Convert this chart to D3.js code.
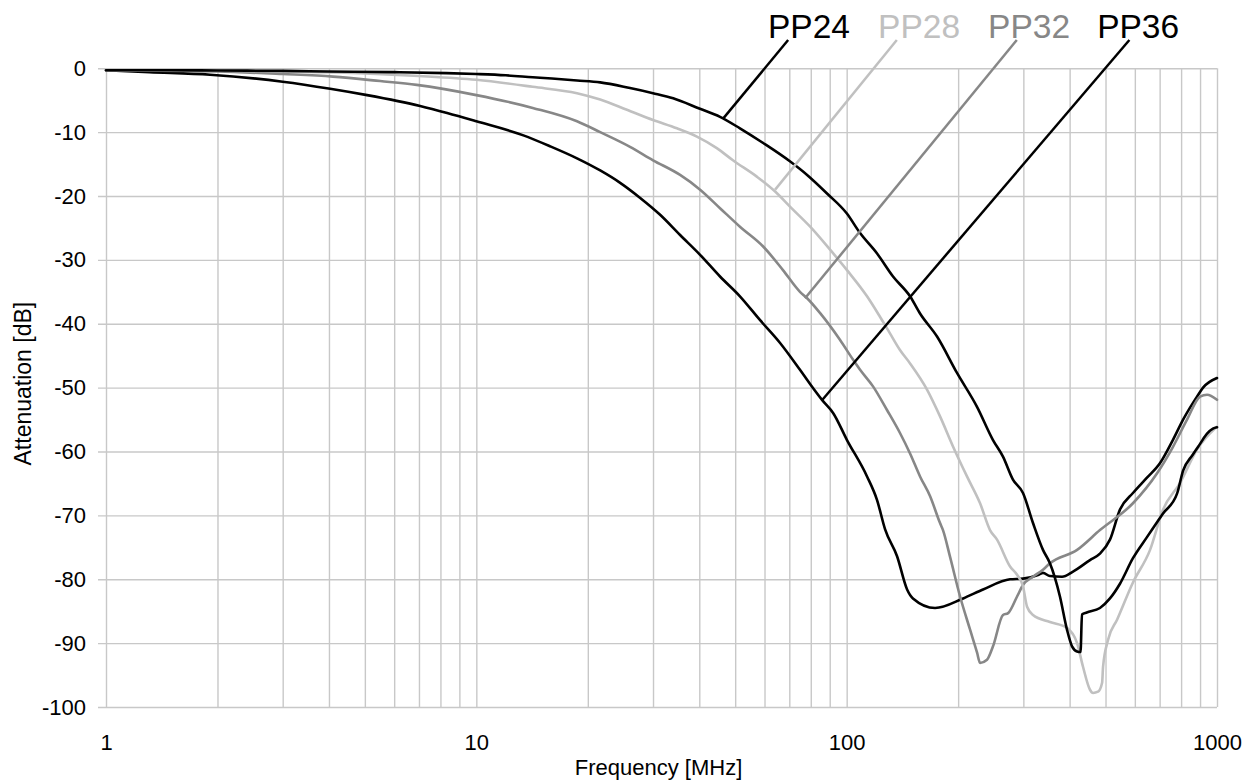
<!DOCTYPE html>
<html>
<head>
<meta charset="utf-8">
<script src="https://cdn.jsdelivr.net/npm/d3@7"></script>
<style>
  html, body { margin: 0; padding: 0; background: #fff; }
  svg { display: block; font-family: "Liberation Sans", Arial, sans-serif; }
</style>
</head>
<body>
<svg id="chart" width="1252" height="780"></svg>
<script>
// ---------------- DATA ----------------
const seriesNames = ["PP24", "PP28", "PP32", "PP36"];

// [frequency MHz, attenuation dB]
const pp24 = [[1,-0.3],[1.5,-0.3],[2,-0.35],[3,-0.4],[4,-0.5],[6,-0.6],[8.3,-0.75],[10,-0.9],[12,-1.1],[14.2,-1.4],[16,-1.6],[18.7,-1.9],[21.6,-2.2],[26,-3.1],[30,-3.9],[34,-4.7],[40,-6.3],[45.5,-7.6],[51.5,-9.4],[59.5,-11.7],[70.4,-14.6],[78.2,-16.7],[88.5,-19.6],[100,-22.7],[108.7,-25.8],[120.8,-29],[133.4,-32.6],[148.3,-35.7],[157.8,-38.4],[175.4,-42],[198.6,-47.7],[224.9,-53],[248.4,-58.2],[264.3,-60.8],[281.2,-64.4],[299.3,-66.5],[318.5,-71.2],[338.9,-75.4],[353.9,-77.5],[376.6,-82.7],[393.5,-87.9],[406,-90.5],[419,-91.3],[428,-91.4],[432,-85.5],[445,-85.2],[483,-84.5],[514,-83],[547,-80.7],[593,-76.7],[647,-73.4],[715,-69.7],[780,-66.6],[810,-63],[860,-60.5],[900,-58.8],[940,-57.2],[975,-56.4],[1000,-56.2]];

const pp28 = [[1,-0.3],[2,-0.35],[3,-0.5],[5,-0.8],[7,-1.2],[10,-1.8],[14.2,-2.9],[18.7,-3.9],[21.6,-4.9],[25.5,-6.5],[30,-8.1],[34.8,-9.4],[39.4,-10.7],[44.6,-12.5],[49.3,-14.4],[57.3,-17],[64.1,-19.3],[70.4,-21.7],[79.7,-24.8],[90.2,-28.4],[100.2,-31.6],[113.5,-35.7],[123,-38.9],[130.9,-41.5],[139.3,-44.1],[148.3,-46.2],[164.8,-50.3],[178.7,-54.5],[193.7,-59.2],[211.3,-63.9],[229.2,-68.1],[243.8,-72.3],[254.7,-73.8],[276.2,-78],[288.5,-79.3],[299.3,-81.1],[307,-84.3],[318.5,-85.6],[353.9,-86.7],[393.5,-87.6],[419,-90],[434.7,-93.7],[454,-97.3],[462.6,-97.8],[477.3,-97.6],[489.5,-96.2],[492.4,-93.7],[507.8,-89.5],[537.6,-86.3],[593,-80.5],[659.6,-75.4],[714.8,-69.1],[795,-64.9],[883,-59.7],[1000,-56.1]];

const pp32 = [[1,-0.3],[2,-0.5],[3,-0.9],[4.1,-1.3],[5.5,-2.0],[6.9,-2.6],[10,-4.2],[14.2,-6.2],[18.7,-8.3],[21.6,-10.0],[26,-12.3],[30,-14.4],[35.5,-16.7],[40.2,-19],[45.5,-21.9],[51.5,-24.8],[59.5,-27.9],[67.3,-31.6],[74.8,-35],[78.2,-36],[84.7,-38.3],[95.9,-42.5],[104,-45.6],[108.7,-47.2],[117.8,-49.8],[128.5,-53.5],[139.3,-57.1],[148.3,-60.3],[157.8,-63.9],[168,-67],[178.7,-71.2],[182,-72.3],[190.2,-76.5],[202.4,-82.7],[215.4,-87.9],[225,-91.5],[229.2,-93.1],[239.3,-92.6],[248.4,-90.5],[264.3,-85.6],[272.9,-85.3],[288.5,-82.7],[299.3,-80.9],[318.5,-79.6],[338.9,-78.5],[353.9,-77.5],[419,-75.4],[483,-72.3],[593,-68.1],[689,-63.4],[760,-59.3],[830,-55],[900,-51.4],[940,-51.1],[1000,-51.9]];

const pp36 = [[1,-0.3],[1.31,-0.6],[1.91,-1.0],[3,-2.1],[4.03,-3.2],[5.07,-4.2],[7.05,-5.9],[8.34,-7],[10,-8.3],[13.4,-10.5],[15.8,-12.2],[18.7,-14.1],[21.6,-16],[24.4,-17.9],[27.7,-20.3],[31.3,-22.9],[35.5,-26.1],[40.2,-29.2],[45.5,-32.6],[51.5,-35.7],[58.3,-39.4],[66.1,-43],[74.8,-47.2],[81.2,-50.1],[86,-52],[92,-54],[100.2,-58.2],[113.5,-63.9],[120.8,-67.6],[127,-72.2],[136.8,-76.4],[145.6,-81.6],[151,-83],[173.3,-84.5],[206.3,-83],[233.5,-81.6],[276.2,-80],[299.3,-79.9],[330,-79.3],[338.9,-79],[353.9,-79.5],[381.6,-79.6],[408.5,-78.8],[454,-77],[483,-76],[514,-73.8],[547,-69.1],[593,-66.5],[647,-64.1],[702,-61.8],[760,-58.2],[810,-55],[883,-51.4],[917,-50],[1000,-48.5]];

const seriesValues = [pp24, pp28, pp32, pp36];

// axis ticks
const yTickValues = [0,-10,-20,-30,-40,-50,-60,-70,-80,-90,-100];
const xMajorTicks = [1,10,100,1000];
const xGridTicks = [1,2,3,4,5,6,7,8,9,10,20,30,40,50,60,70,80,90,100,200,300,400,500,600,700,800,900,1000];

// label annotations (data units: MHz, dB)
const labelTextAt   = [[61.3,4.7],[121.6,4.7],[240.9,4.7],[474.6,4.7]];
const leaderFrom    = [[69.5,4.43],[136.6,4.43],[288,4.43],[580,4.43]];
const leaderTo      = [[46.5,-7.8],[64.1,-19.0],[77.2,-36.0],[86.0,-51.9]];

// ---------------- STYLE ----------------
const colors = ["#000000", "#c0c0c0", "#878787", "#000000"];
const gridColor = "#c8c8c8";

// ---------------- DRAW ----------------
const svg = d3.select("#chart");
const plotLeft = 106, plotRight = 1217, plotTop = 68.3, plotBottom = 707;

const x = d3.scaleLog().domain([1, 1000]).range([plotLeft, plotRight]);
const y = d3.scaleLinear().domain([-100, 0]).range([plotBottom, plotTop]);

// vertical grid + x labels
const xAxis = d3.axisBottom(x)
  .tickValues(xGridTicks)
  .tickSizeInner(-(plotBottom - plotTop))
  .tickSizeOuter(0)
  .tickPadding(27.4)
  .tickFormat(d => xMajorTicks.includes(d) ? String(d) : "");
const gx = svg.append("g").attr("transform", `translate(0,${plotBottom})`).call(xAxis);
gx.select(".domain").remove();
gx.selectAll(".tick line").attr("stroke", gridColor).attr("stroke-width", 1.4);
gx.selectAll(".tick text").attr("fill", "#000").style("font-size", "22px")
  .style("font-family", '"Liberation Sans", Arial, sans-serif');

// horizontal grid + y labels
const yAxis = d3.axisLeft(y)
  .tickValues(yTickValues)
  .tickSizeInner(-(plotRight - (plotLeft - 8)))
  .tickSizeOuter(0)
  .tickPadding(12)
  .tickFormat(d => d === 0 ? "0" : "-" + Math.abs(d));
const gy = svg.append("g").attr("transform", `translate(${plotLeft - 8},0)`).call(yAxis);
gy.select(".domain").remove();
gy.selectAll(".tick line").attr("stroke", gridColor).attr("stroke-width", 1.4);
gy.selectAll(".tick text").attr("fill", "#000").style("font-size", "22px")
  .style("font-family", '"Liberation Sans", Arial, sans-serif');

// axis titles
svg.append("text")
  .attr("x", (plotLeft + plotRight) / 2 - 3)
  .attr("y", 775)
  .attr("text-anchor", "middle")
  .style("font-size", "22px")
  .text("Frequency [MHz]");

svg.append("text")
  .attr("transform", `translate(31,${(plotTop + plotBottom) / 2 - 4}) rotate(-90)`)
  .attr("text-anchor", "middle")
  .style("font-size", "23px")
  .text("Attenuation [dB]");

// series lines
const line = d3.line().x(d => x(d[0])).y(d => y(d[1])).curve(d3.curveMonotoneX);
const drawOrder = [3, 2, 1, 0];
drawOrder.forEach(i => {
  svg.append("path")
    .datum(seriesValues[i])
    .attr("d", line)
    .attr("fill", "none")
    .attr("stroke", colors[i])
    .attr("stroke-width", 2.6)
    .attr("stroke-linejoin", "round")
    .attr("stroke-linecap", "round");
});

// leader lines and labels
seriesNames.forEach((name, i) => {
  svg.append("line")
    .attr("x1", x(leaderFrom[i][0])).attr("y1", y(leaderFrom[i][1]))
    .attr("x2", x(leaderTo[i][0])).attr("y2", y(leaderTo[i][1]))
    .attr("stroke", colors[i])
    .attr("stroke-width", 2.5);
  svg.append("text")
    .attr("x", x(labelTextAt[i][0]))
    .attr("y", y(labelTextAt[i][1]))
    .attr("fill", colors[i])
    .style("font-size", "33.5px")
    .text(name);
});
</script>
</body>
</html>
